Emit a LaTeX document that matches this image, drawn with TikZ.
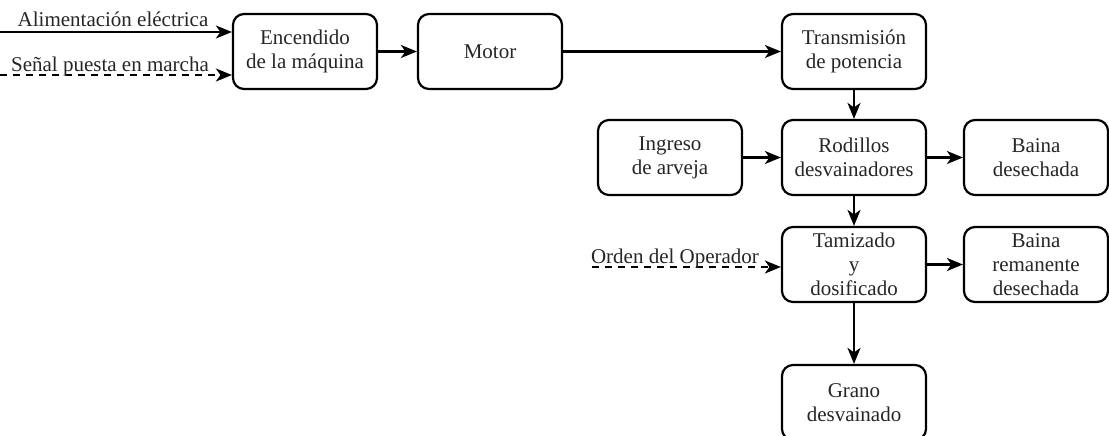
\documentclass[tikz,border=0pt]{standalone}
\usepackage{fontspec}
\setmainfont{Liberation Serif}
\usetikzlibrary{arrows.meta}
\begin{document}
\begin{tikzpicture}[x=1pt,y=-1pt,
  box/.style={draw=black,line width=2.2pt,rounded corners=11pt,minimum width=144pt,minimum height=75pt,inner sep=0pt,align=center,text=black!85,font=\fontsize{21}{24}\selectfont},
  conn/.style={line width=2.2pt,-{Stealth[length=16pt,width=13pt,inset=4.5pt]}},
  lbl/.style={inner sep=0pt,text=black!85,font=\fontsize{21}{24}\selectfont}]
\useasboundingbox (0,0) rectangle (1109,436);
\node[box] (enc) at (305,51.5) {Encendido\\de la máquina};
\node[box] (mot) at (490,51.5) {Motor};
\node[box] (tra) at (854,51.5) {Transmisión\\de potencia};
\node[box] (ing) at (670,157.5) {Ingreso\\de arveja};
\node[box] (rod) at (854,157.5) {Rodillos\\desvainadores};
\node[box] (bai) at (1036,157.5) {Baina\\desechada};
\node[box] (tam) at (854,264.5) {Tamizado\\y\\dosificado};
\node[box] (bar) at (1036,264.5) {Baina\\remanente\\desechada};
\node[box] (gra) at (854,402.5) {Grano\\desvainado};
\coordinate (a0) at (0,32);
\coordinate (s0) at (0,75);
\coordinate (o0) at (592,267);
\draw[conn] (a0) -- (enc.west |- a0);
\draw[conn,dashed,dash pattern=on 7pt off 6pt] (s0) -- (enc.west |- s0);
\draw[conn,dashed,dash pattern=on 7pt off 6pt] (o0) -- (tam.west |- o0);
\node[lbl,anchor=base] (al) at (113,27) {Alimentación eléctrica};
\node[lbl,anchor=base] (se) at (110,72) {Señal puesta en marcha};
\node[lbl,anchor=base] (or) at (675,263) {Orden del Operador};
\draw[conn] (enc) -- (mot);
\draw[conn] (mot) -- (tra);
\draw[conn] (tra) -- (rod);
\draw[conn] (ing) -- (rod);
\draw[conn] (rod) -- (bai);
\draw[conn] (rod) -- (tam);
\draw[conn] (tam) -- (bar);
\draw[conn] (tam) -- (gra);
\end{tikzpicture}
\end{document}
